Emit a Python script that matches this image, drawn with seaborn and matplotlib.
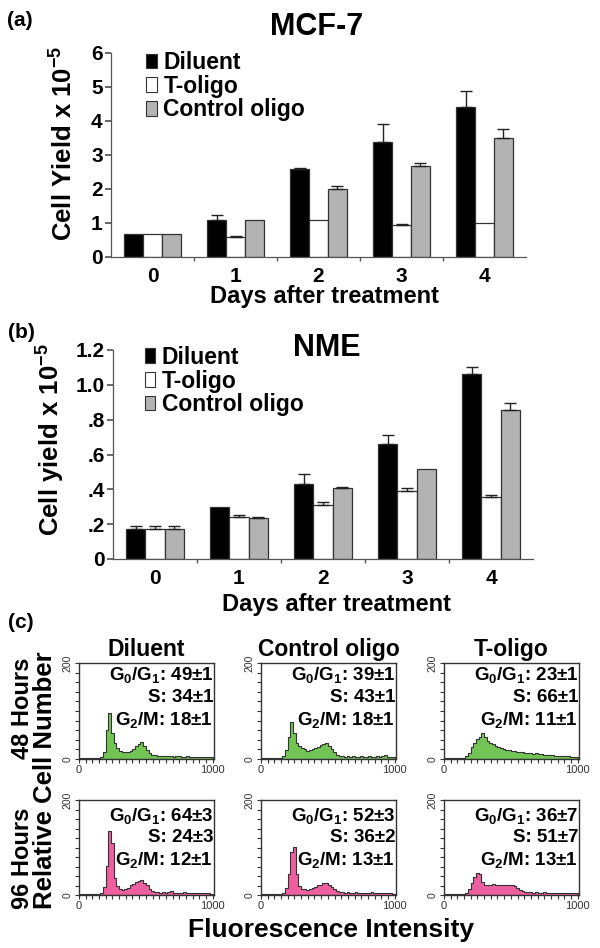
import numpy as np
import pandas as pd
import matplotlib.pyplot as plt
import seaborn as sns
from matplotlib.patches import Patch

sns.set_theme(style="ticks")
plt.rcParams['font.family'] = ['Liberation Sans', 'DejaVu Sans']
plt.rcParams['font.weight'] = 'bold'
plt.rcParams['axes.labelweight'] = 'bold'
plt.rcParams['axes.titleweight'] = 'bold'
plt.rcParams['text.color'] = 'black'
plt.rcParams['axes.labelcolor'] = 'black'
plt.rcParams['xtick.color'] = 'black'
plt.rcParams['ytick.color'] = 'black'
plt.rcParams['mathtext.fontset'] = 'custom'
plt.rcParams['mathtext.rm'] = 'Liberation Sans:bold'
plt.rcParams['mathtext.default'] = 'regular'

# ---- bar chart data (cell yield x 10^-5) ----
days = ['0', '1', '2', '3', '4']
treatments = ['Diluent', 'T-oligo', 'Control oligo']
bar_colors = ['#000000', '#ffffff', '#b3b3b3']

mcf7_diluent = [0.67, 1.08, 2.58, 3.39, 4.40]
mcf7_toligo = [0.67, 0.58, 1.08, 0.94, 0.99]
mcf7_control = [0.67, 1.08, 2.00, 2.67, 3.51]
mcf7_diluent_err = [0, 0.17, 0.04, 0.51, 0.48]
mcf7_toligo_err = [0, 0.04, 0, 0.03, 0]
mcf7_control_err = [0, 0, 0.10, 0.10, 0.25]

nme_diluent = [0.175, 0.30, 0.43, 0.66, 1.06]
nme_toligo = [0.175, 0.24, 0.31, 0.39, 0.355]
nme_control = [0.175, 0.235, 0.405, 0.515, 0.855]
nme_diluent_err = [0.012, 0, 0.06, 0.05, 0.045]
nme_toligo_err = [0.012, 0.01, 0.015, 0.018, 0.015]
nme_control_err = [0.012, 0.008, 0.01, 0, 0.04]

nme_ticks = [0, 0.2, 0.4, 0.6, 0.8, 1.0, 1.2]
nme_ticklabels = ['0', '.2', '.4', '.6', '.8', '1.0', '1.2']

# ---- flow cytometry histograms (counts per 20-channel bin, 0-1000) ----
channel_width = 20
channel_centers = np.arange(10, 1000, channel_width)

diluent_48h = [2, 3, 2, 3, 3, 2, 3, 3, 5, 14,
               60, 95, 55, 34, 22, 17, 15, 14, 14, 16,
               20, 27, 31, 36, 27, 18, 12, 9, 8, 7,
               7, 6, 7, 6, 6, 5, 6, 6, 5, 5,
               6, 5, 5, 4, 5, 5, 4, 4, 4, 4]
control_48h = [3, 3, 3, 3, 3, 3, 3, 3, 6, 18,
               45, 78, 55, 34, 27, 23, 20, 17, 18, 20,
               23, 26, 30, 32, 33, 28, 21, 14, 9, 6,
               6, 5, 6, 5, 6, 5, 5, 6, 5, 5,
               6, 5, 5, 6, 5, 7, 8, 5, 5, 4]
toligo_48h = [3, 3, 3, 3, 3, 3, 3, 3, 6, 12,
              25, 34, 42, 46, 54, 45, 38, 34, 31, 28,
              26, 23, 21, 19, 18, 17, 16, 15, 14, 14,
              13, 12, 12, 11, 12, 10, 10, 9, 9, 8,
              8, 7, 7, 7, 6, 6, 6, 5, 5, 5]
diluent_96h = [3, 3, 3, 2, 3, 3, 3, 3, 5, 16,
               60, 135, 110, 35, 18, 12, 11, 12, 15, 20,
               24, 27, 29, 31, 26, 20, 12, 8, 6, 6,
               5, 6, 5, 7, 8, 5, 5, 4, 5, 6,
               4, 4, 5, 4, 4, 4, 5, 4, 4, 3]
control_96h = [3, 3, 2, 3, 3, 3, 3, 3, 5, 15,
               45, 90, 100, 45, 18, 13, 12, 11, 12, 14,
               17, 20, 22, 25, 26, 21, 16, 12, 9, 7,
               6, 5, 6, 5, 5, 6, 5, 4, 5, 5,
               4, 6, 5, 4, 4, 5, 4, 4, 4, 3]
toligo_96h = [3, 3, 3, 3, 3, 3, 3, 3, 5, 12,
              25, 38, 46, 44, 28, 20, 22, 21, 23, 21,
              22, 21, 22, 22, 21, 20, 18, 14, 11, 8,
              7, 6, 6, 5, 6, 5, 5, 6, 5, 5,
              4, 5, 5, 4, 4, 5, 4, 4, 4, 4]

column_titles = ['Diluent', 'Control oligo', 'T-oligo']
stats_48h = [('49±1', '34±1', '18±1'), ('39±1', '43±1', '18±1'), ('23±1', '66±1', '11±1')]
stats_96h = [('64±3', '24±3', '12±1'), ('52±3', '36±2', '13±1'), ('36±7', '51±7', '13±1')]

W, H = 600, 948


def px_axes(fig, left, top, right, bottom):
    return fig.add_axes([left / W, 1 - bottom / H, (right - left) / W, (bottom - top) / H])


def bar_panel(ax, values, errors):
    df = pd.DataFrame({'day': days * 3,
                       'treatment': np.repeat(treatments, len(days)),
                       'value': np.concatenate(values)})
    sns.barplot(data=df, x='day', y='value', hue='treatment', hue_order=treatments,
                palette=bar_colors, saturation=1, width=0.68, gap=0,
                edgecolor='#333333', linewidth=0.9, errorbar=None, legend=False, ax=ax)
    for cont, errs, vals in zip(ax.containers, errors, values):
        for bar, e, v in zip(cont, errs, vals):
            if e > 0:
                ax.errorbar(bar.get_x() + bar.get_width() / 2, v, yerr=[[0], [e]],
                            color='#222222', lw=1, capsize=4, capthick=1)
    ax.set_xlim(-0.5, 4.5)
    sns.despine(ax=ax)
    for s in ['left', 'bottom']:
        ax.spines[s].set_color('#555555')
        ax.spines[s].set_linewidth(0.9)
    ax.set_xticks([0.5, 1.5, 2.5, 3.5], minor=True)
    ax.tick_params(axis='x', which='major', length=0, labelsize=15, pad=7)
    ax.tick_params(axis='x', which='minor', length=3, color='#555555')
    ax.tick_params(axis='y', length=4, color='#555555', labelsize=15, pad=2)
    handles = [Patch(facecolor=c, edgecolor='#333333', lw=0.8) for c in bar_colors]
    return handles


def add_legend(ax, handles, anchor):
    ax.legend(handles, treatments, loc='upper left', bbox_to_anchor=anchor,
              frameon=False, fontsize=16.5, handlelength=0.45, handleheight=0.6,
              handletextpad=0.3, labelspacing=0.03, borderpad=0, borderaxespad=0)


fig = plt.figure(figsize=(6, 9.48), dpi=100)

# (a) MCF-7
ax_a = px_axes(fig, 111, 53, 526, 257)
handles = bar_panel(ax_a, [mcf7_diluent, mcf7_toligo, mcf7_control],
                    [mcf7_diluent_err, mcf7_toligo_err, mcf7_control_err])
ax_a.set_ylim(0, 6)
ax_a.set_yticks(range(7))
add_legend(ax_a, handles, (0.085, 1.01))
ax_a.set_xlabel('Days after treatment', fontsize=17)
ax_a.xaxis.set_label_coords((324 - 111) / 415, -(296 - 257) / 204)
ax_a.xaxis.label.set_va('center')
ax_a.set_ylabel('Cell Yield x 10$^{-5}$', fontsize=18.5)
ax_a.yaxis.set_label_coords((64 - 111) / 415, (257 - 143) / 204)
ax_a.yaxis.label.set_va('center')
fig.text(317 / W, 1 - 27 / H, 'MCF-7', fontsize=22, ha='center', va='center')
fig.text(20 / W, 1 - 20 / H, '(a)', fontsize=15, ha='center', va='center')

# (b) NME
ax_b = px_axes(fig, 113, 350, 533, 559)
handles = bar_panel(ax_b, [nme_diluent, nme_toligo, nme_control],
                    [nme_diluent_err, nme_toligo_err, nme_control_err])
ax_b.set_ylim(0, 1.2)
ax_b.set_yticks(nme_ticks, nme_ticklabels)
add_legend(ax_b, handles, (0.075, 1.02))
ax_b.set_xlabel('Days after treatment', fontsize=17)
ax_b.xaxis.set_label_coords((337 - 113) / 420, -(605 - 559) / 209)
ax_b.xaxis.label.set_va('center')
ax_b.set_ylabel('Cell yield x 10$^{-5}$', fontsize=18.5)
ax_b.yaxis.set_label_coords((51 - 113) / 420, (559 - 440) / 209)
ax_b.yaxis.label.set_va('center')
fig.text(327 / W, 1 - 348 / H, 'NME', fontsize=22, ha='center', va='center')
fig.text(21 / W, 1 - 333 / H, '(b)', fontsize=15, ha='center', va='center')

# (c) cell cycle histograms
col_left = [79, 261, 444]
rows = [(663, 759, [diluent_48h, control_48h, toligo_48h], stats_48h, '#72c454', [0.875, 0.645, 0.405]),
        (800, 895, [diluent_96h, control_96h, toligo_96h], stats_96h, '#ee5fa0', [0.83, 0.6, 0.365])]
for r, (top, bottom, hists, stats, color, text_y) in enumerate(rows):
    for c in range(3):
        ax = px_axes(fig, col_left[c], top, col_left[c] + 135, bottom)
        hist_df = pd.DataFrame({'channel': channel_centers, 'count': hists[c]})
        sns.histplot(data=hist_df, x='channel', weights='count', binwidth=channel_width,
                     binrange=(0, 1000), element='step', fill=True, color=color, alpha=1,
                     edgecolor='#333333', linewidth=0.8, ax=ax)
        ax.set_xlim(0, 1010)
        ax.set_ylim(0, 200)
        ax.set(xlabel='', ylabel='')
        ax.set_xticks([0, 1000], ['0', '1000'], fontsize=8, fontweight='normal', color='#333333')
        ax.set_xticks(np.arange(0, 1001, 50), minor=True)
        ax.set_yticks([0, 200], ['0', '200'], rotation=90, va='center', fontsize=7.5,
                      fontweight='normal', color='#333333')
        ax.set_yticks(np.arange(0, 201, 20), minor=True)
        ax.tick_params(which='both', direction='out', length=3, width=0.8, color='#333333', pad=1.5)
        for s in ax.spines.values():
            s.set_color('#333333')
            s.set_linewidth(1)
        g01, s_ph, g2m = stats[c]
        lines = ['G$_0$/G$_1$: ' + g01, 'S: ' + s_ph, 'G$_2$/M: ' + g2m]
        for txt, ty in zip(lines, text_y):
            ax.text(0.995, ty, txt, transform=ax.transAxes, ha='right', va='center', fontsize=13.5)
        if r == 0:
            ax.set_title(column_titles[c], fontsize=16.5, pad=5)

fig.text(23 / W, 1 - 708 / H, '48 Hours', rotation=90, fontsize=17, ha='center', va='center')
fig.text(23 / W, 1 - 858 / H, '96 Hours', rotation=90, fontsize=17, ha='center', va='center')
fig.text(45 / W, 1 - 780 / H, 'Relative Cell Number', rotation=90, fontsize=18.5, ha='center', va='center')
fig.text(331 / W, 1 - 930 / H, 'Fluorescence Intensity', fontsize=19, ha='center', va='center')
fig.text(21 / W, 1 - 622 / H, '(c)', fontsize=15, ha='center', va='center')

fig.savefig('out.png', dpi=100, facecolor='white')
